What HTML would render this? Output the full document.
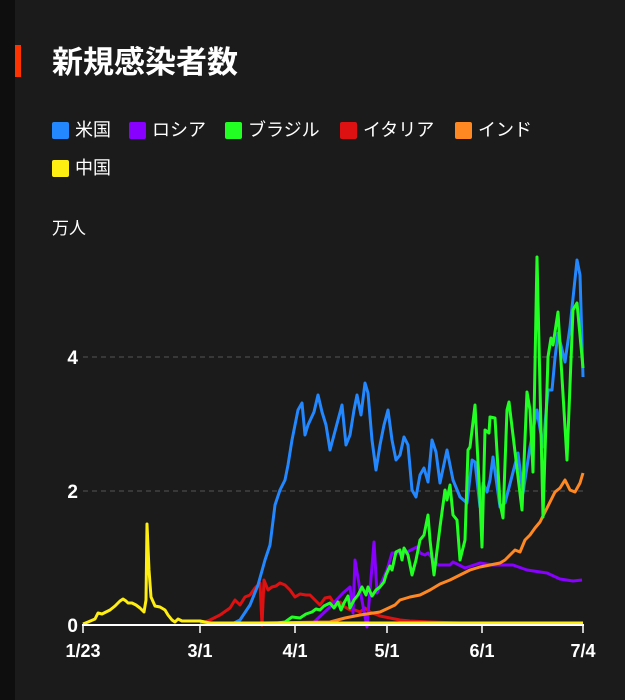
<!DOCTYPE html><html><head><style>
body{margin:0;width:625px;height:700px;background:#1b1b1b;overflow:hidden;font-family:"Liberation Sans","Noto Sans CJK JP",sans-serif;color:#fff;position:relative}
.strip{position:absolute;left:0;top:0;width:15px;height:700px;background:#0e0e0e}
.bar{position:absolute;left:15px;top:45px;width:6px;height:32px;background:#ff3300}
h1{position:absolute;left:52px;top:43px;margin:0;font-size:31px;font-weight:bold;line-height:40px}
.lg{position:absolute;font-size:18px;line-height:20px}
.lg i{display:inline-block;width:17px;height:17px;border-radius:2px;vertical-align:-3px;margin-right:6px}
</style></head><body>
<div class="strip"></div><div class="bar"></div>
<h1>新規感染者数</h1>
<div class="lg" style="left:52px;top:120px"><i style="background:#2388ff"></i>米国</div>
<div class="lg" style="left:129px;top:120px"><i style="background:#8800ff"></i>ロシア</div>
<div class="lg" style="left:225px;top:120px"><i style="background:#22ff22"></i>ブラジル</div>
<div class="lg" style="left:340px;top:120px"><i style="background:#dd1111"></i>イタリア</div>
<div class="lg" style="left:455px;top:120px"><i style="background:#ff8822"></i>インド</div>
<div class="lg" style="left:52px;top:158px"><i style="background:#ffee11"></i>中国</div>
<div class="lg" style="left:52px;top:219px;font-size:17px">万人</div>
<svg width="625" height="700" style="position:absolute;left:0;top:0" font-family="Liberation Sans" fill="none">
<line x1="83" y1="357" x2="583" y2="357" stroke="#555" stroke-dasharray="5,4"/>
<line x1="83" y1="491" x2="583" y2="491" stroke="#555" stroke-dasharray="5,4"/>
<g fill="#fff" font-size="19" font-weight="bold" text-anchor="end"><text x="78" y="364">4</text><text x="78" y="498">2</text><text x="78" y="632">0</text></g>
<g stroke-width="3" stroke-linejoin="round">
<polyline stroke="#dd1111" points="200,624 210,620 220,615 230,608 235,600 240,605 245,597 250,595 255,588 260,583 262,625 264,580 268,590 272,587 276,586 280,583 285,585 290,590 295,597 300,594 306,595 310,595 315,600 320,605 325,598 330,597 335,605 340,602 345,607 350,610 355,610 360,612 365,608 370,612 375,614 380,616 390,618 400,620 410,621 430,622 460,623 583,623"/>
<polyline stroke="#8800ff" points="300,624 313,623 330,607 343,593 350,587 353,613 355,560 360,590 367,627 374,542 377,593 387,570 392,553 400,553 405,553 417,547 420,553 425,555 428,553 438,565 450,565 453,562 465,568 480,563 493,565 513,565 527,570 547,573 560,579 573,581 582,580"/>
<polyline stroke="#ff8822" points="200,624 330,622 345,618 360,615 380,612 395,605 400,600 410,597 420,595 430,590 440,584 450,580 460,575 470,570 480,567 490,565 500,563 505,560 515,550 520,552 525,540 530,535 535,528 540,522 546,510 550,502 555,492 560,488 565,480 570,490 575,492 580,483 583,473"/>
<polyline stroke="#2388ff" points="200,624 232,624 240,620 250,605 258,585 265,560 270,545 275,505 280,490 285,480 288,465 292,440 295,425 298,410 302,403 305,435 308,425 314,412 318,395 322,412 326,425 330,450 334,435 338,420 342,405 346,445 350,435 354,410 357,395 361,415 365,383 368,393 372,440 376,470 380,445 384,425 388,410 392,440 396,460 400,455 404,437 408,445 412,490 416,497 420,475 424,468 428,482 432,440 436,452 440,483 447,450 453,480 460,497 467,503 472,460 475,462 480,507 483,483 487,492 490,480 493,457 500,507 505,503 518,453 523,493 530,447 537,410 543,447 548,390 552,390 555,358 558,333 565,362 570,327 577,260 580,275 583,377"/>
<polyline stroke="#22ff22" points="270,624 285,622 292,617 300,618 306,614 312,612 316,609 320,610 324,606 330,603 334,608 338,602 341,610 344,603 348,596 350,608 354,600 358,595 362,587 366,595 368,587 372,596 376,590 380,587 384,582 386,575 390,566 392,570 396,552 400,550 402,560 404,548 408,555 412,575 416,560 420,540 424,535 428,515 430,540 434,575 440,527 445,490 447,500 450,485 453,515 457,520 460,560 465,540 468,450 470,447 475,405 480,500 482,547 485,430 489,433 490,417 495,418 500,503 503,518 507,410 509,402 522,510 527,392 530,410 533,472 537,257 543,517 548,357 551,338 553,345 558,312 567,460 573,310 577,303 583,368"/>
<polyline stroke="#ffee11" points="83,624 88,622 95,619 98,613 102,614 110,610 115,606 120,601 123,599 126,601 128,603 132,603 136,605 140,608 144,612 146,600 147,524 149,570 151,597 155,606 160,607 165,610 168,615 172,620 175,622 178,619 182,621 190,621 200,621 210,623 583,623"/>
</g>
<line x1="82" y1="625" x2="584" y2="625" stroke="#fff" stroke-width="2"/>
<g stroke="#fff" stroke-width="1.5"><line x1="83" y1="625" x2="83" y2="633"/><line x1="200" y1="625" x2="200" y2="633"/><line x1="295" y1="625" x2="295" y2="633"/><line x1="387" y1="625" x2="387" y2="633"/><line x1="482" y1="625" x2="482" y2="633"/><line x1="583" y1="625" x2="583" y2="633"/></g>
<g fill="#fff" font-size="18" font-weight="bold" text-anchor="middle"><text x="83" y="657">1/23</text><text x="200" y="657">3/1</text><text x="295" y="657">4/1</text><text x="387" y="657">5/1</text><text x="482" y="657">6/1</text><text x="583" y="657">7/4</text></g>
</svg>
</body></html>
